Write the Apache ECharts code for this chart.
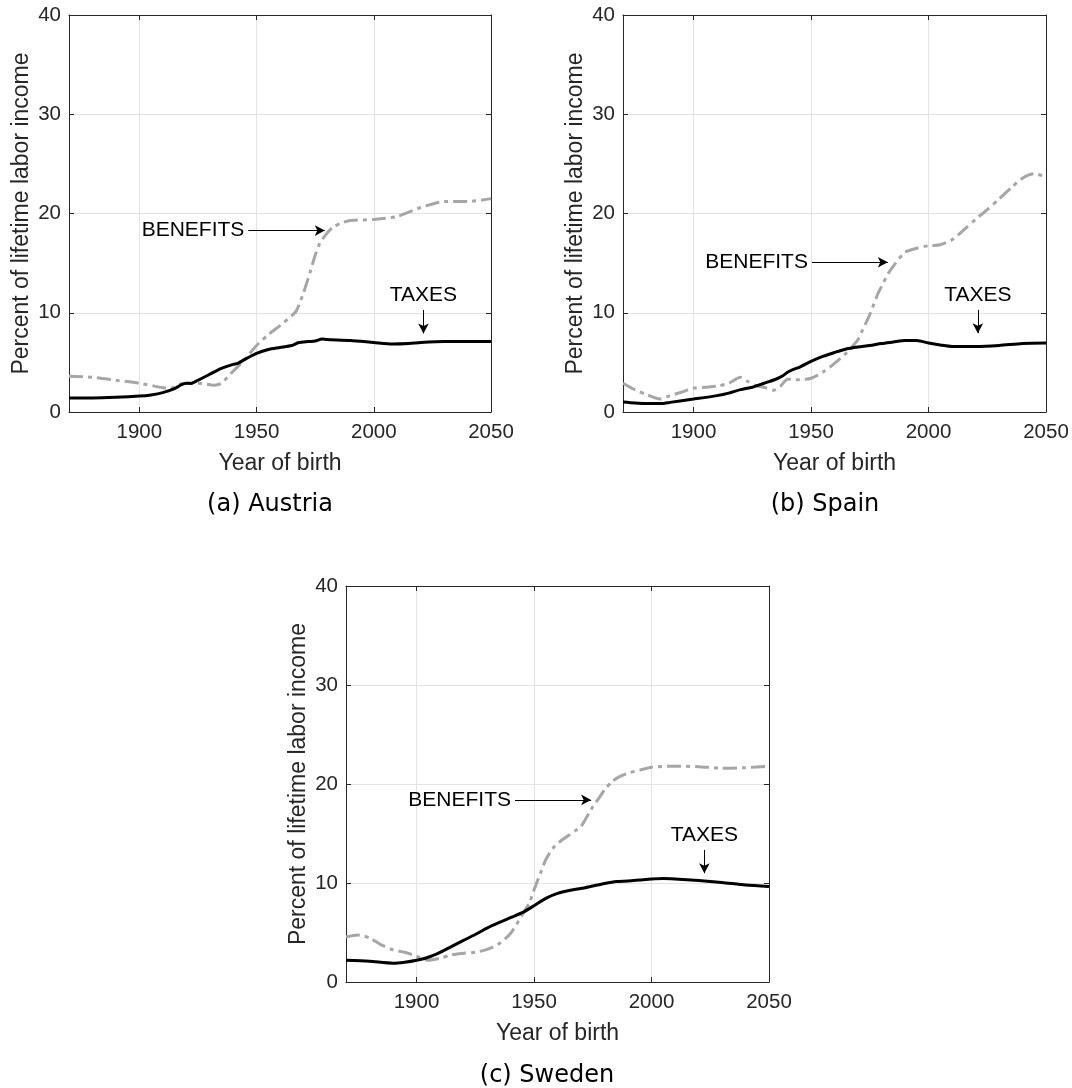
<!DOCTYPE html>
<html>
<head>
<meta charset="utf-8">
<script src="https://cdn.jsdelivr.net/npm/echarts/dist/echarts.min.js"></script>
<style>
  html, body { margin: 0; padding: 0; background: #fff; }
  #chart { width: 1072px; height: 1088px; }
</style>
</head>
<body>
<div id="chart"></div>
<script>
// x ticks and y ticks shared by the three panels
const xTicks = [1900, 1950, 2000, 2050]
const yTicks = [0, 10, 20, 30, 40]

// (a) Austria
const atTaxYears = [1870, 1880, 1890, 1900, 1905, 1910, 1915, 1918, 1920, 1922, 1925, 1930, 1935, 1940, 1942, 1945, 1950, 1955, 1960, 1965, 1968, 1972, 1975, 1978, 1980, 1990, 2000, 2008, 2015, 2020, 2030, 2050]
const atTaxes = [1.42, 1.42, 1.48, 1.6, 1.72, 1.95, 2.35, 2.75, 2.9, 2.88, 3.2, 3.8, 4.4, 4.8, 4.9, 5.3, 5.9, 6.3, 6.5, 6.7, 7.0, 7.1, 7.15, 7.35, 7.3, 7.2, 7.0, 6.85, 6.9, 7.0, 7.1, 7.1]
const atBenYears = [1870, 1880, 1890, 1900, 1910, 1913, 1918, 1925, 1932, 1935, 1940, 1945, 1950, 1955, 1960, 1965, 1967, 1970, 1973, 1975, 1977, 1980, 1983, 1987, 1990, 2000, 2010, 2020, 2030, 2040, 2050]
const atBenefits = [3.6, 3.5, 3.2, 2.9, 2.45, 2.35, 2.85, 2.9, 2.7, 2.9, 4.1, 5.3, 6.7, 7.8, 8.7, 9.7, 10.2, 12.0, 14.2, 15.8, 17.0, 18.0, 18.7, 19.1, 19.3, 19.4, 19.7, 20.6, 21.2, 21.2, 21.5]

// (b) Spain
const esTaxYears = [1870, 1875, 1880, 1887, 1890, 1900, 1910, 1915, 1920, 1925, 1930, 1935, 1938, 1940, 1942, 1945, 1950, 1955, 1960, 1965, 1970, 1975, 1980, 1985, 1990, 1995, 2000, 2005, 2010, 2020, 2030, 2040, 2050]
const esTaxes = [1.0, 0.9, 0.85, 0.85, 0.97, 1.3, 1.65, 1.9, 2.25, 2.5, 2.9, 3.3, 3.65, 4.0, 4.25, 4.5, 5.1, 5.6, 6.0, 6.35, 6.55, 6.7, 6.9, 7.05, 7.2, 7.2, 6.95, 6.75, 6.6, 6.6, 6.7, 6.9, 6.95]
const esBenYears = [1870, 1875, 1880, 1886, 1890, 1895, 1900, 1905, 1910, 1915, 1920, 1923, 1927, 1930, 1934, 1937, 1940, 1945, 1950, 1955, 1960, 1965, 1970, 1972, 1975, 1978, 1980, 1983, 1986, 1990, 1995, 2000, 2005, 2010, 2015, 2020, 2025, 2030, 2035, 2040, 2045, 2050]
const esBenefits = [2.9, 2.25, 1.75, 1.3, 1.65, 2.0, 2.4, 2.5, 2.6, 2.9, 3.5, 3.1, 2.6, 2.5, 2.2, 2.6, 3.3, 3.25, 3.4, 4.0, 4.9, 5.95, 7.3, 8.3, 9.8, 11.65, 12.65, 14.0, 15.0, 16.1, 16.5, 16.75, 16.85, 17.35, 18.35, 19.4, 20.4, 21.45, 22.55, 23.55, 24.0, 23.7]

// (c) Sweden
const seTaxYears = [1870, 1880, 1890, 1895, 1900, 1905, 1910, 1915, 1920, 1925, 1930, 1935, 1940, 1945, 1950, 1955, 1960, 1965, 1970, 1975, 1980, 1985, 1990, 1995, 2000, 2005, 2010, 2020, 2030, 2040, 2050]
const seTaxes = [2.2, 2.1, 1.9, 2.0, 2.2, 2.5, 3.0, 3.6, 4.2, 4.8, 5.45, 6.0, 6.5, 7.0, 7.7, 8.45, 8.95, 9.25, 9.45, 9.7, 9.95, 10.15, 10.2, 10.3, 10.4, 10.45, 10.4, 10.25, 10.05, 9.8, 9.65]
const seBenYears = [1870, 1875, 1880, 1885, 1890, 1895, 1900, 1905, 1910, 1915, 1920, 1925, 1930, 1935, 1940, 1945, 1948, 1950, 1953, 1955, 1958, 1960, 1965, 1968, 1970, 1975, 1978, 1980, 1983, 1986, 1990, 1995, 2000, 2010, 2020, 2030, 2040, 2050]
const seBenefits = [4.55, 4.75, 4.45, 3.75, 3.25, 3.0, 2.6, 2.2, 2.4, 2.75, 2.9, 3.0, 3.3, 3.85, 4.9, 6.8, 8.0, 9.3, 11.15, 12.35, 13.5, 14.0, 14.85, 15.35, 15.7, 17.7, 18.7, 19.4, 20.2, 20.7, 21.1, 21.4, 21.7, 21.8, 21.75, 21.6, 21.65, 21.8]

// annotation arrows: [startYear, startValue, endYear, endValue]
const atBenArrow = [1946.5, 18.28, 1979.1, 18.28]
const atTaxArrow = [2021.2, 10.27, 2021.2, 7.92]
const esBenArrow = [1950.4, 15.09, 1982.7, 15.09]
const esTaxArrow = [2021.0, 10.29, 2021.0, 7.94]
const seBenArrow = [1941.9, 18.39, 1974.3, 18.39]
const seTaxArrow = [2022.5, 13.34, 2022.5, 10.99]

const captions = ['(a) Austria', '(b) Spain', '(c) Sweden']

const FONT = 'Liberation Sans, Arial, Helvetica, sans-serif'
const AXIS_COLOR = '#262626'

const grids = [
  { left: 69, top: 15, width: 422, height: 397 },
  { left: 623, top: 15, width: 423, height: 397 },
  { left: 346, top: 586, width: 423, height: 396 }
]

function pairs (xs, ys) {
  return xs.map((x, i) => [x, ys[i]])
}

function arrow (a, text) {
  return {
    silent: true,
    symbol: ['none', 'arrow'],
    symbolSize: [8, 10],
    lineStyle: { color: '#000', width: 1, type: 'solid' },
    label: {
      show: true,
      position: 'start',
      distance: 4,
      formatter: text,
      color: '#000',
      fontSize: 21,
      fontFamily: FONT
    },
    emphasis: { disabled: true },
    data: [[{ coord: [a[0], a[1]] }, { coord: [a[2], a[3]] }]]
  }
}

const panelData = [
  { tax: pairs(atTaxYears, atTaxes), ben: pairs(atBenYears, atBenefits), taxArrow: atTaxArrow, benArrow: atBenArrow },
  { tax: pairs(esTaxYears, esTaxes), ben: pairs(esBenYears, esBenefits), taxArrow: esTaxArrow, benArrow: esBenArrow },
  { tax: pairs(seTaxYears, seTaxes), ben: pairs(seBenYears, seBenefits), taxArrow: seTaxArrow, benArrow: seBenArrow }
]

const xAxis = []
const yAxis = []
const series = []

grids.forEach((g, i) => {
  // bottom axis with labels
  xAxis.push({
    gridIndex: i, type: 'value', min: 1870, max: 2050, position: 'bottom',
    name: 'Year of birth', nameLocation: 'middle', nameGap: 40,
    nameTextStyle: { fontSize: 23, color: AXIS_COLOR, fontFamily: FONT },
    axisLine: { onZero: false, lineStyle: { color: AXIS_COLOR, width: 1 } },
    axisTick: { inside: true, length: 5, customValues: xTicks, lineStyle: { color: AXIS_COLOR } },
    axisLabel: { customValues: xTicks, formatter: v => String(v), fontSize: 20.5, color: AXIS_COLOR, margin: 10, fontFamily: FONT },
    splitLine: { show: true, lineStyle: { color: '#e3e3e3', width: 1 } }
  })
  // top box edge
  xAxis.push({
    gridIndex: i, type: 'value', min: 1870, max: 2050, position: 'top',
    axisLine: { show: true, onZero: false, lineStyle: { color: AXIS_COLOR, width: 1 } },
    axisTick: { inside: true, length: 5, customValues: xTicks, lineStyle: { color: AXIS_COLOR } },
    axisLabel: { show: false },
    splitLine: { show: false }
  })
  yAxis.push({
    gridIndex: i, type: 'value', min: 0, max: 40, interval: 10, position: 'left',
    name: 'Percent of lifetime labor income', nameLocation: 'middle', nameGap: 36,
    nameTextStyle: { fontSize: 23, color: AXIS_COLOR, fontFamily: FONT },
    axisLine: { show: true, onZero: false, lineStyle: { color: AXIS_COLOR, width: 1 } },
    axisTick: { show: true, inside: true, length: 5, lineStyle: { color: AXIS_COLOR } },
    axisLabel: { fontSize: 20.5, color: AXIS_COLOR, margin: 8, fontFamily: FONT },
    splitLine: { show: true, lineStyle: { color: '#e3e3e3', width: 1 } }
  })
  yAxis.push({
    gridIndex: i, type: 'value', min: 0, max: 40, interval: 10, position: 'right',
    axisLine: { show: true, onZero: false, lineStyle: { color: AXIS_COLOR, width: 1 } },
    axisTick: { show: true, inside: true, length: 5, lineStyle: { color: AXIS_COLOR } },
    axisLabel: { show: false },
    splitLine: { show: false }
  })

  const d = panelData[i]
  series.push({
    name: 'BENEFITS', type: 'line', xAxisIndex: i * 2, yAxisIndex: i * 2,
    data: d.ben, showSymbol: false, smooth: 0.25,
    lineStyle: { color: '#a6a6a6', width: 3, type: [14, 5, 4, 5], cap: 'butt' },
    markLine: arrow(d.benArrow, 'BENEFITS')
  })
  series.push({
    name: 'TAXES', type: 'line', xAxisIndex: i * 2, yAxisIndex: i * 2,
    data: d.tax, showSymbol: false, smooth: 0.25,
    lineStyle: { color: '#000', width: 3 },
    markLine: arrow(d.taxArrow, 'TAXES')
  })
})

const captionPos = [[270, 505], [825, 505], [547, 1076]]

const chart = echarts.init(document.getElementById('chart'))
chart.setOption({
  backgroundColor: '#fff',
  animation: false,
  grid: grids,
  xAxis: xAxis,
  yAxis: yAxis,
  series: series,
  graphic: captions.map((t, i) => ({
    type: 'text',
    x: captionPos[i][0],
    y: captionPos[i][1],
    style: {
      text: t,
      fontSize: 24,
      fontFamily: 'DejaVu Sans, Verdana, sans-serif',
      align: 'center',
      verticalAlign: 'middle',
      fill: '#000'
    }
  }))
})
</script>
</body>
</html>
